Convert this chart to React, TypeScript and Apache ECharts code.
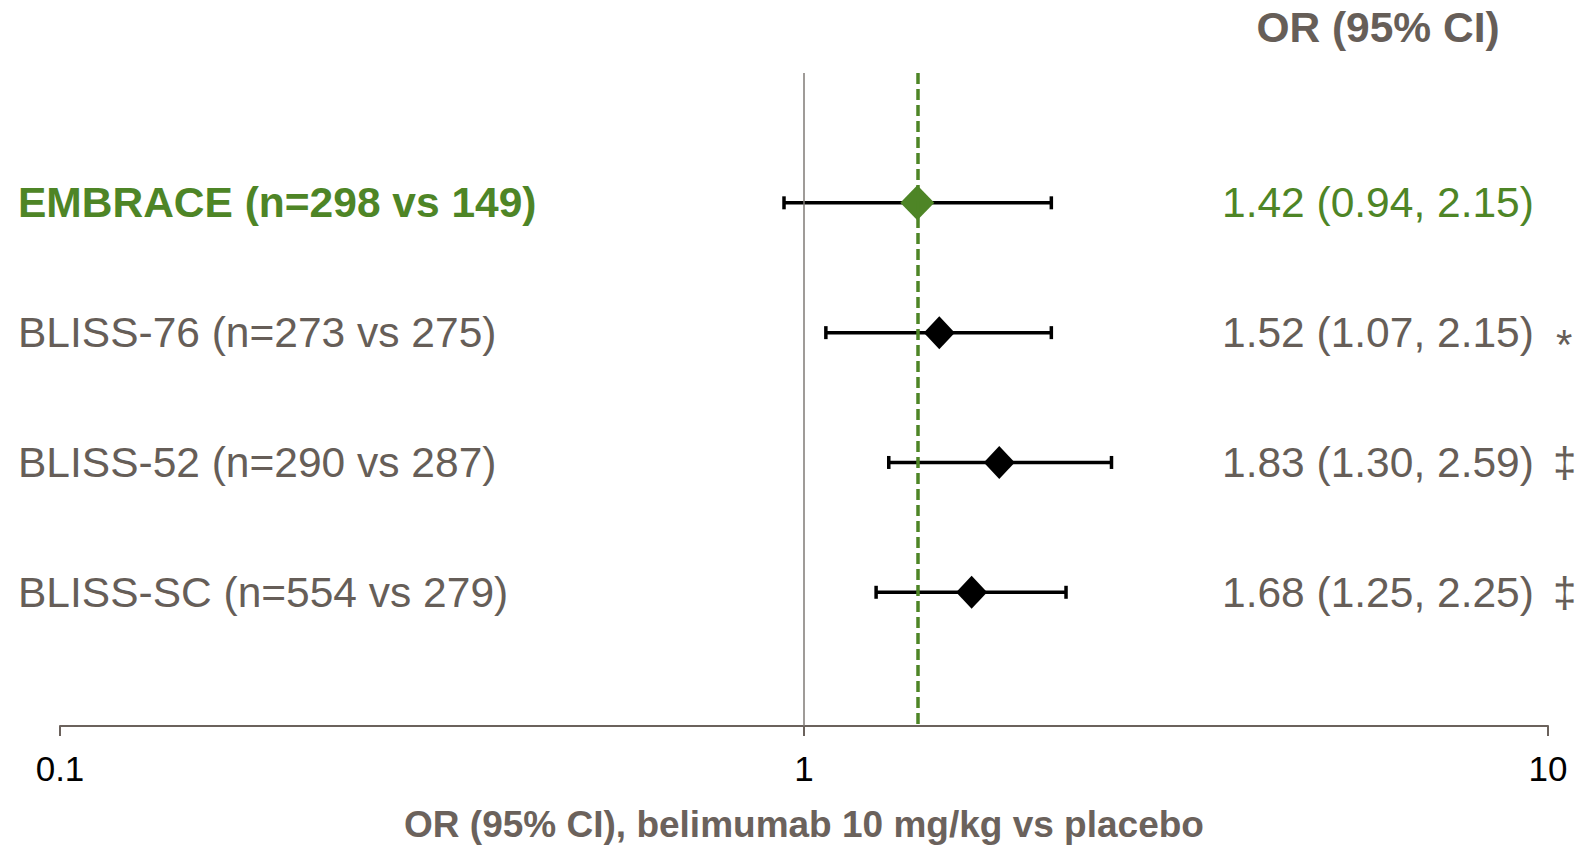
import React, { useEffect, useRef } from 'react';
import * as echarts from 'echarts';

const studies = ['EMBRACE (n=298 vs 149)', 'BLISS-76 (n=273 vs 275)', 'BLISS-52 (n=290 vs 287)', 'BLISS-SC (n=554 vs 279)'];
const orValues = [1.42, 1.52, 1.83, 1.68];
const ciLow = [0.94, 1.07, 1.3, 1.25];
const ciHigh = [2.15, 2.15, 2.59, 2.25];
const orLabels = ['1.42 (0.94, 2.15)', '1.52 (1.07, 2.15)', '1.83 (1.30, 2.59)', '1.68 (1.25, 2.25)'];
const significance = ['', '*', '‡', '‡'];
const rows = [1, 2, 3, 4];
const noEffect = 1;
const embraceLine = 1.42;
const columnHeader = 'OR (95% CI)';
const axisTitle = 'OR (95% CI), belimumab 10 mg/kg vs placebo';

const GREEN = '#4E8526';
const GREY_TEXT = '#665E58';
const AXIS = '#6B625C';
const FONT = '"Liberation Sans", Arial, Helvetica, sans-serif';

export default function App() {
  const ref = useRef<HTMLDivElement>(null);
  useEffect(() => {
    if (!ref.current) return;
    const chart = echarts.init(ref.current, undefined, { renderer: 'svg' });
    const option: any = {
      animation: false,
      backgroundColor: '#ffffff',
      grid: { left: 60, right: 29, top: 73, bottom: 120, containLabel: false, outerBoundsMode: 'none' },
      xAxis: {
        type: 'log',
        logBase: 10,
        min: 0.1,
        max: 10,
        position: 'bottom',
        splitLine: { show: false },
        axisLine: { show: true, onZero: false, lineStyle: { color: AXIS, width: 2 } },
        axisTick: { show: true, length: 10, inside: false, lineStyle: { color: AXIS, width: 2 } },
        axisLabel: { color: '#000', fontSize: 35, fontFamily: FONT, margin: 25, formatter: (v: number) => String(v) },
        name: axisTitle,
        nameLocation: 'middle',
        nameGap: 80,
        nameTextStyle: { color: AXIS, fontSize: 37, fontWeight: 'bold', fontFamily: FONT },
      },
      yAxis: { type: 'value', min: 0, max: 5.03, inverse: true, show: false },
      series: [
        {
          type: 'scatter',
          data: [],
          silent: true,
          markLine: {
            silent: true,
            symbol: 'none',
            label: { show: false },
            data: [
              { xAxis: noEffect, lineStyle: { color: '#7F7A76', width: 1.5, type: 'solid' } },
            ],
          },
          z: 1,
        },
        {
          type: 'custom',
          data: rows.map((r, i) => [ciLow[i], ciHigh[i], r]),
          encode: { x: [0, 1], y: 2 },
          z: 2,
          renderItem: (params: any, api: any) => {
            const lo = api.coord([api.value(0), api.value(2)]);
            const hi = api.coord([api.value(1), api.value(2)]);
            const h = 6.5;
            const st = { stroke: '#000', lineWidth: 3.5 };
            return {
              type: 'group',
              children: [
                { type: 'line', shape: { x1: lo[0], y1: lo[1], x2: hi[0], y2: hi[1] }, style: st },
                { type: 'line', shape: { x1: lo[0], y1: lo[1] - h, x2: lo[0], y2: lo[1] + h }, style: st },
                { type: 'line', shape: { x1: hi[0], y1: hi[1] - h, x2: hi[0], y2: hi[1] + h }, style: st },
              ],
            };
          },
        },
        {
          type: 'scatter',
          data: [],
          silent: true,
          z: 3,
          markLine: {
            silent: true,
            symbol: 'none',
            label: { show: false },
            data: [
              { xAxis: embraceLine, lineStyle: { color: GREEN, width: 3.5, type: [11, 5] } },
            ],
          },
        },
        {
          type: 'scatter',
          symbol: 'diamond',
          z: 4,
          data: rows.map((r, i) => ({
            value: [orValues[i], r],
            symbolSize: i === 0 ? [34, 35] : [31, 33],
            itemStyle: { color: i === 0 ? GREEN : '#000', opacity: 1 },
          })),
        },
      ],
    };
    chart.setOption(option);

    const graphics: any[] = [
      {
        type: 'text',
        x: 1378,
        y: 27,
        style: { text: columnHeader, fill: GREY_TEXT, font: `bold 42.5px ${FONT}`, align: 'center', verticalAlign: 'middle' },
      },
    ];
    rows.forEach((r, i) => {
      const y = chart.convertToPixel({ yAxisIndex: 0 }, r) as number;
      const color = i === 0 ? GREEN : GREY_TEXT;
      graphics.push({
        type: 'text',
        x: 18,
        y,
        style: { text: studies[i], fill: color, font: `${i === 0 ? 'bold ' : ''}42.5px ${FONT}`, align: 'left', verticalAlign: 'middle' },
      });
      graphics.push({
        type: 'text',
        x: 1222,
        y,
        style: { text: orLabels[i], fill: color, font: `42.5px ${FONT}`, align: 'left', verticalAlign: 'middle' },
      });
      if (significance[i]) {
        const isStar = significance[i] === '*';
        graphics.push({
          type: 'text',
          x: isStar ? 1556 : 1553,
          y: y + (isStar ? 12 : 0),
          style: { text: significance[i], fill: GREY_TEXT, font: `42px ${FONT}`, align: 'left', verticalAlign: 'middle' },
        });
      }
    });
    chart.setOption({ graphic: graphics });

    return () => chart.dispose();
  }, []);
  return <div ref={ref} style={{ position: 'fixed', left: 0, top: 0, width: 1577, height: 846 }} />;
}
